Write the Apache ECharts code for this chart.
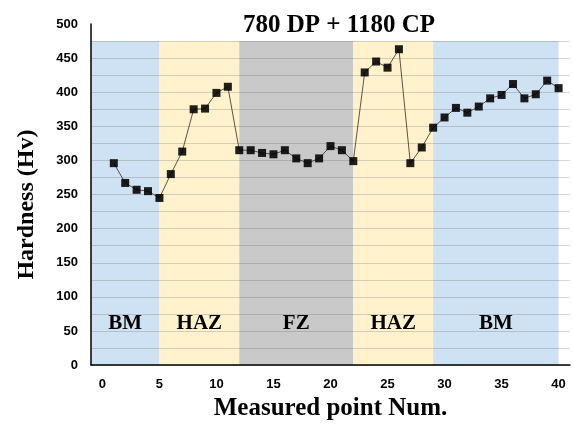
<!DOCTYPE html>
<html>
<head>
<meta charset="utf-8">
<script src="https://cdn.jsdelivr.net/npm/echarts@6/dist/echarts.min.js"></script>
<style>
  html, body { margin: 0; padding: 0; background: #fff; }
  #chart { width: 573px; height: 426px; }
</style>
</head>
<body>
<div id="chart"></div>
<script>
// measured points and hardness values (Hv)
var pointNum = [1, 2, 3, 4, 5, 6, 7, 8, 9, 10,
  11, 12, 13, 14, 15, 16, 17, 18, 19, 20,
  21, 22, 23, 24, 25, 26, 27, 28, 29, 30,
  31, 32, 33, 34, 35, 36, 37, 38, 39, 40];
var hardness = [296, 267, 257, 255, 245, 280, 313, 375, 376, 399,
  408, 315, 315, 311, 309, 315, 303, 296, 303, 321,
  315, 299, 429, 445, 436, 463, 296, 319, 348, 363,
  377, 370, 379, 391, 396, 412, 391, 397, 417, 406];

// zones along the weld: name, start point, end point
var zoneNames = ['BM', 'HAZ', 'FZ', 'HAZ', 'BM'];
var zoneStart = [-1, 5, 12, 22, 29];
var zoneEnd = [5, 12, 22, 29, 40];
var zoneColors = ['#cfe2f3', '#fff2cc', '#c9c9c9', '#fff2cc', '#cfe2f3'];
var zoneTop = 475;

var chartDom = document.getElementById('chart');
var myChart = echarts.init(chartDom);
var option;

var seriesData = pointNum.map(function (p, i) {
  return [p, hardness[i]];
});

var areas = zoneNames.map(function (name, i) {
  return [
    {
      name: name,
      coord: [zoneStart[i], 0],
      itemStyle: { color: zoneColors[i] }
    },
    { coord: [zoneEnd[i], zoneTop] }
  ];
});

var serif = '"Liberation Serif", "DejaVu Serif", serif';
var sans = '"Liberation Sans", Arial, sans-serif';

option = {
  animation: false,
  title: {
    text: '780 DP + 1180 CP',
    left: 238,
    top: 8,
    textStyle: {
      fontFamily: serif,
      fontWeight: 'bold',
      fontSize: 25,
      color: '#000'
    }
  },
  grid: {
    left: 91,
    right: 0,
    top: 24,
    bottom: 58
  },
  xAxis: {
    type: 'value',
    min: -1,
    max: 41,
    interval: 1,
    name: 'Measured point Num.',
    nameLocation: 'middle',
    nameGap: 30,
    nameTextStyle: {
      fontFamily: serif,
      fontWeight: 'bold',
      fontSize: 25,
      color: '#000'
    },
    axisLine: { lineStyle: { color: '#000', width: 1.5 } },
    axisTick: { show: false },
    splitLine: { show: false },
    axisLabel: {
      margin: 13,
      fontFamily: sans,
      fontWeight: 'bold',
      fontSize: 13,
      color: '#000',
      formatter: function (v) {
        return v >= 0 && v % 5 === 0 ? String(v) : '';
      }
    }
  },
  yAxis: {
    type: 'value',
    min: 0,
    max: 500,
    interval: 25,
    name: 'Hardness (Hv)',
    nameLocation: 'middle',
    nameGap: 52,
    nameTextStyle: {
      fontFamily: serif,
      fontWeight: 'bold',
      fontSize: 24,
      color: '#000',
      padding: [0, 20, 0, 0]
    },
    axisLine: { show: true, onZero: false, lineStyle: { color: '#000', width: 1.5 } },
    axisTick: { show: false },
    splitLine: {
      show: true,
      showMaxLine: false,
      lineStyle: { color: 'rgba(90,90,90,0.25)', width: 1 }
    },
    axisLabel: {
      margin: 13,
      fontFamily: sans,
      fontWeight: 'bold',
      fontSize: 13,
      color: '#000',
      formatter: function (v) {
        return v % 50 === 0 ? String(v) : '';
      }
    }
  },
  series: [
    {
      name: 'Hardness',
      type: 'line',
      data: seriesData,
      symbol: 'rect',
      symbolSize: 8,
      itemStyle: { color: 'rgba(0,0,0,0.88)' },
      lineStyle: { color: 'rgba(40,30,20,0.75)', width: 1 },
      emphasis: { disabled: true },
      markArea: {
        z: -1,
        silent: true,
        label: {
          show: true,
          position: 'insideBottom',
          distance: 31,
          fontFamily: serif,
          fontWeight: 'bold',
          fontSize: 21,
          color: '#000'
        },
        data: areas
      }
    }
  ]
};

if (option && typeof option === 'object') {
  myChart.setOption(option);
}
</script>
</body>
</html>
